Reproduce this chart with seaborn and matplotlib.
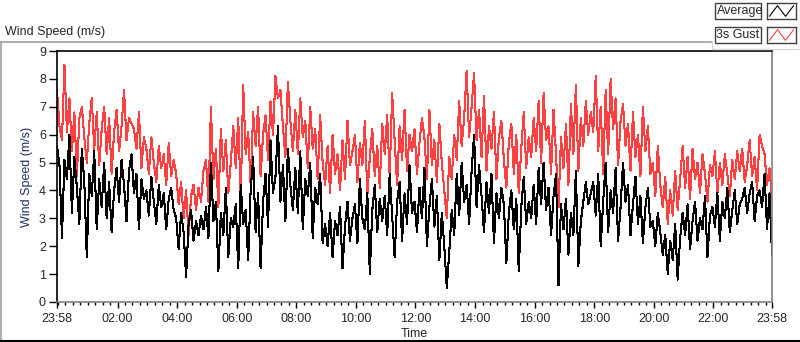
import numpy as np
import pandas as pd
import matplotlib
matplotlib.use("Agg")
import matplotlib.pyplot as plt
from matplotlib.lines import Line2D
from matplotlib.patches import Rectangle
import seaborn as sns

# ---------------- data ----------------
start_time = "23:58"
sample_minutes = 5

average = [
    5.6, 4.9, 2.3, 5.1, 4.4, 6.0, 3.2, 5.2, 4.1, 2.8, 5.5, 4.3,
    1.6, 4.6, 3.8, 5.4, 2.6, 4.4, 3.4, 5.0, 3.0, 4.3, 2.5, 4.0,
    4.8, 3.6, 5.1, 4.2, 2.9, 4.7, 5.3, 3.9, 4.6, 2.6, 4.4, 3.7,
    4.0, 3.1, 4.5, 3.6, 2.8, 4.2, 3.4, 3.9, 2.6, 3.7, 4.1, 3.3,
    3.0, 1.9, 3.2, 2.5, 0.9, 2.8, 3.3, 2.2, 2.9, 2.4, 3.1, 2.6,
    3.4, 2.3, 5.0, 2.9, 3.6, 1.1, 3.2, 2.4, 4.1, 1.6, 3.0, 2.7,
    3.5, 1.2, 4.2, 2.8, 3.3, 1.5, 4.0, 5.2, 2.5, 3.9, 1.2, 3.6,
    4.6, 2.7, 5.8, 3.9, 4.5, 6.3, 3.6, 4.9, 2.9, 5.5, 4.2, 3.3,
    4.8, 3.2, 5.4, 2.6, 4.4, 3.8, 5.0, 2.3, 4.1, 3.5, 4.6, 2.1,
    2.8, 2.0, 3.2, 1.6, 2.9, 2.4, 3.4, 1.2, 2.7, 3.6, 2.2, 3.0,
    3.5, 2.1, 4.4, 3.0, 2.6, 3.9, 1.0, 3.3, 4.2, 2.5, 3.7, 2.9,
    3.8, 2.4, 4.6, 3.1, 1.6, 3.6, 4.3, 2.2, 3.9, 2.8, 4.9, 3.2,
    3.6, 2.5, 4.1, 3.0, 4.8, 2.0, 3.4, 4.4, 2.7, 3.8, 1.5, 3.2,
    2.0, 0.5, 1.8, 3.3, 2.4, 4.6, 3.1, 5.0, 3.6, 4.2, 2.8, 4.7,
    6.0, 3.4, 4.9, 3.8, 2.5, 4.3, 3.2, 4.6, 2.1, 3.9, 3.0, 4.1,
    3.5, 1.4, 3.2, 4.0, 2.6, 3.7, 1.1, 3.4, 4.5, 2.8, 3.6, 3.0,
    4.2, 2.8, 4.8, 3.5, 5.0, 3.3, 4.1, 2.4, 3.8, 4.6, 0.6, 3.5,
    2.6, 3.7, 1.7, 3.2, 2.4, 4.7, 1.3, 2.9, 3.6, 4.3, 3.5, 3.9,
    4.3, 3.1, 4.6, 2.0, 3.6, 5.0, 2.5, 4.0, 3.2, 4.8, 2.2, 3.4,
    5.0, 3.6, 4.2, 2.4, 3.5, 4.5, 2.8, 3.8, 2.1, 3.4, 4.1, 2.7,
    2.9, 2.0, 3.2, 2.5, 1.7, 2.4, 1.0, 2.2, 1.5, 2.8, 0.8, 2.3,
    3.2, 2.4, 3.5, 1.9, 2.9, 3.6, 2.2, 3.0, 2.6, 3.8, 1.6, 3.1,
    3.4, 2.7, 3.9, 2.2, 3.6, 3.0, 4.1, 2.5, 3.3, 4.0, 2.8, 3.5,
    3.7, 4.1, 3.2, 3.9, 4.3, 2.9, 3.8, 4.0, 3.4, 4.6, 2.6, 3.9, 1.7,
]

gust_3s = [
    7.6, 6.3, 5.8, 8.5, 6.1, 7.3, 5.4, 6.8, 4.5, 6.6, 7.0, 5.9,
    5.0, 6.4, 7.3, 5.5, 6.8, 4.9, 6.2, 7.0, 5.3, 6.6, 4.6, 6.1,
    6.9, 5.4, 6.3, 7.6, 5.8, 6.6, 6.4, 6.2, 5.5, 6.8, 4.8, 5.9,
    5.5, 4.6, 5.9, 5.0, 4.3, 5.6, 4.8, 5.3, 4.2, 5.7, 4.5, 5.1,
    4.6, 3.5, 4.3, 3.0, 4.0, 2.4, 3.8, 4.2, 3.3, 4.1, 3.6, 4.7,
    5.1, 3.6, 7.0, 4.4, 5.5, 3.4, 6.2, 4.7, 5.8, 3.9, 5.0, 6.3,
    4.8, 6.6, 3.7, 7.8, 5.3, 6.1, 4.2, 6.8, 5.6, 7.0, 4.5, 6.0,
    6.7, 5.1, 7.2, 6.0, 8.1, 7.3, 7.6, 6.3, 5.2, 7.9, 6.5, 5.4,
    6.9, 5.3, 7.3, 5.9, 6.5, 4.8, 7.0, 5.5, 6.2, 4.4, 6.7, 5.0,
    4.2, 5.6, 3.9, 6.0, 4.6, 5.3, 4.0, 5.8, 4.4, 6.5, 4.9, 5.4,
    6.0, 4.3, 5.7, 4.9, 6.5, 3.8, 5.2, 6.2, 4.5, 5.6, 4.1, 6.4,
    5.3, 6.7, 4.5, 7.5, 5.8, 4.2, 6.3, 5.1, 6.9, 4.7, 6.0, 5.4,
    6.2, 4.6, 5.7, 6.6, 5.9, 4.4, 6.9, 4.9, 5.8, 4.3, 6.4, 5.0,
    4.0, 3.0, 5.2, 4.4, 6.0, 5.1, 7.2, 5.6, 6.6, 8.3, 5.9, 7.0,
    8.2, 5.8, 6.9, 5.2, 7.4, 4.7, 6.3, 5.5, 6.8, 4.4, 5.9, 6.5,
    5.1, 4.1, 5.7, 6.4, 4.6, 6.0, 3.9, 5.5, 6.8, 4.8, 5.9, 5.2,
    6.6, 5.4, 7.2, 5.0, 7.5, 5.8, 6.3, 4.6, 6.9, 5.3, 3.4, 5.9,
    4.8, 6.4, 4.2, 7.1, 5.3, 7.8, 4.7, 6.6, 5.6, 7.2, 6.0, 6.8,
    6.1, 8.1, 5.4, 7.0, 4.6, 7.6, 5.3, 8.0, 6.2, 7.3, 4.9, 6.5,
    7.1, 5.6, 6.4, 4.7, 6.8, 5.2, 6.0, 4.5, 7.0, 5.4, 6.3, 4.6,
    5.0, 3.8, 5.6, 4.2, 3.4, 4.5, 2.8, 4.0, 3.1, 4.7, 3.3, 4.4,
    5.6, 4.1, 5.2, 3.7, 5.5, 4.4, 5.0, 3.9, 5.3, 4.6, 3.6, 4.9,
    4.5, 5.4, 3.9, 5.0, 4.2, 5.3, 4.6, 3.8, 5.1, 4.4, 5.4, 4.7,
    5.5, 4.3, 4.9, 5.8, 4.5, 5.2, 4.0, 6.0, 5.6, 5.3, 4.2, 4.8, 3.7,
]

x_tick_labels = ["23:58", "02:00", "04:00", "06:00", "08:00", "10:00", "12:00",
                 "14:00", "16:00", "18:00", "20:00", "22:00", "23:58"]
y_ticks = [0, 1, 2, 3, 4, 5, 6, 7, 8, 9]
series_names = ["Average", "3s Gust"]
series_colors = {"Average": "#000000", "3s Gust": "#FF4040"}

# ---------------- helpers ----------------
def clock_to_min(s):
    h, m = s.split(":")
    return int(h) * 60 + int(m)

start_min = clock_to_min(start_time)
hours = np.arange(len(average)) * sample_minutes / 60.0

df = pd.concat([
    pd.DataFrame({"hours": hours, "speed": gust_3s, "series": "3s Gust"}),
    pd.DataFrame({"hours": hours, "speed": average, "series": "Average"}),
], ignore_index=True)

tick_pos = []
for i, lab in enumerate(x_tick_labels):
    m = (clock_to_min(lab) - start_min) % 1440
    if i == len(x_tick_labels) - 1 and m == 0:
        m = 1440
    tick_pos.append(m / 60.0)
minor_pos = [((q - start_min) % 1440) / 60.0 for q in range(0, 1440, 15)]

# ---------------- figure ----------------
sns.set_style("white")
plt.rcParams["font.family"] = ["Liberation Sans", "DejaVu Sans"]

W, H = 800, 342
fig = plt.figure(figsize=(W / 100, H / 100), dpi=100)
fig.patch.set_facecolor("white")

def fx(px):
    return px / W

def fy(py):
    return 1 - py / H

L, R, T, B = 57, 772, 51, 302
ax = fig.add_axes([fx(L), fy(B), fx(R) - fx(L), fy(T) - fy(B)])

for name in ["3s Gust", "Average"]:
    sub = df[df["series"] == name]
    sns.lineplot(data=sub, x="hours", y="speed", ax=ax, color=series_colors[name],
                 linewidth=0.75, estimator=None, legend=False, antialiased=False)

ax.set_xlim(0, 24)
ax.set_ylim(0, 9)
ax.set_yticks(y_ticks)
ax.set_yticklabels([str(v) for v in y_ticks])
ax.set_xticks(tick_pos)
ax.set_xticklabels(x_tick_labels)
ax.set_xticks(minor_pos, minor=True)

ax.tick_params(axis="y", which="major", direction="out", length=6, width=1,
               color="black", labelsize=9, pad=2, left=True)
ax.tick_params(axis="x", which="major", direction="out", length=4, width=1,
               color="black", labelsize=9, pad=4, bottom=True)
ax.tick_params(axis="x", which="minor", direction="out", length=2.5, width=1,
               color="black", bottom=True)

for side, col in [("left", "black"), ("top", "black"), ("right", "#808080"), ("bottom", "#808080")]:
    ax.spines[side].set_visible(True)
    ax.spines[side].set_color(col)
    ax.spines[side].set_linewidth(1.2)

ax.set_xlabel("Time", fontsize=9, labelpad=2)
ax.set_ylabel("Wind Speed (m/s)", fontsize=9, color="#1c2f6b", labelpad=4)
ax.grid(False)

# title outside
fig.text(fx(5), fy(32), "Wind Speed (m/s)", fontsize=9, ha="left", va="center")

# frame decoration
def fline(x0, y0, x1, y1, color, lw=1.0):
    fig.add_artist(Line2D([fx(x0), fx(x1)], [fy(y0), fy(y1)], color=color, lw=lw,
                          transform=fig.transFigure))

fline(0, 42, 712, 42, "#a0a0a0", 1.2)
fline(712, 42, 712, 49, "#d8d8d8", 1.0)
fline(712, 49, 800, 49, "#d8d8d8", 1.0)
fline(799.5, 0, 799.5, 49, "#d8d8d8", 1.0)
fline(0.7, 42, 0.7, 341, "#a0a0a0", 1.2)
fline(0, 340.5, 800, 340.5, "#000000", 1.5)

# legend
for i, name in enumerate(series_names):
    y0 = 3 + i * 24
    h = 16
    fig.add_artist(Rectangle((fx(715), fy(y0 + h)), fx(761) - fx(715), fy(y0) - fy(y0 + h),
                             transform=fig.transFigure, fc="white", ec="#404040", lw=1))
    fig.text(fx(716.5), fy(y0 + h / 2), name, fontsize=9, ha="left", va="center")
    iax = fig.add_axes([fx(767), fy(y0 + h), fx(796) - fx(767), fy(y0) - fy(y0 + h)])
    iax.plot([0, 1, 2, 3], [0, 1, 0, 1], color=series_colors[name], lw=0.8)
    iax.set_xlim(-0.3, 3.3)
    iax.set_ylim(-0.25, 1.25)
    iax.set_xticks([])
    iax.set_yticks([])
    for s in iax.spines.values():
        s.set_visible(True)
        s.set_color("#404040")
        s.set_linewidth(1)

fig.savefig("out.png", dpi=100)
